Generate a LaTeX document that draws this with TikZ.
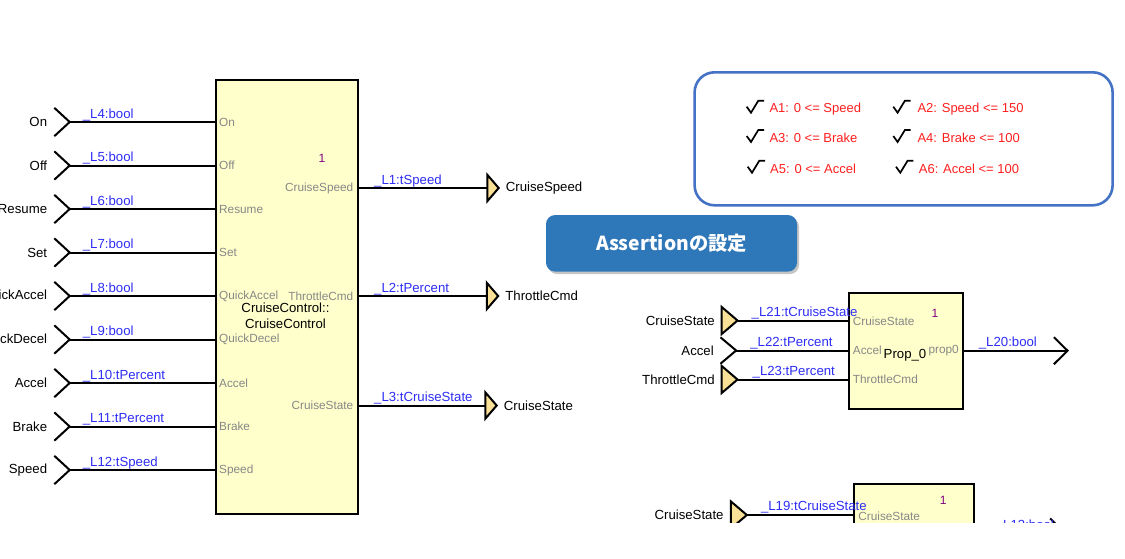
\documentclass[tikz,border=0pt]{standalone}
\usepackage{fontspec}
\setmainfont{Liberation Sans}
\newfontfamily\cjk{Noto Sans CJK JP}
\usetikzlibrary{positioning,shadows}

\definecolor{blkfill}{RGB}{255,255,204}
\definecolor{lnkblue}{RGB}{45,45,245}
\definecolor{portgray}{RGB}{135,135,135}
\definecolor{tagfill}{RGB}{248,224,150}
\definecolor{numpurple}{RGB}{128,0,128}
\definecolor{panelblue}{RGB}{68,114,196}
\definecolor{btnblue}{RGB}{46,119,184}
\definecolor{asrtred}{RGB}{255,30,30}

\begin{document}
\begin{tikzpicture}[x=1pt,y=-1pt,
  blk/.style={rectangle,draw=black,fill=blkfill,line width=2pt,inner sep=0pt,anchor=north west},
  term/.style={rectangle,inner sep=0pt,minimum width=15pt,minimum height=28pt},
  chev/.style={line width=2pt},
  tag/.style={draw=black,fill=tagfill,line width=2pt,line join=miter},
  wire/.style={line width=2pt},
  lbl/.style={font=\fontsize{13.2}{16.7}\selectfont,inner sep=0pt},
  lnk/.style={text=lnkblue,font=\fontsize{13.2}{16}\selectfont,inner sep=0pt,anchor=base west},
  port/.style={text=portgray,font=\fontsize{11.8}{14}\selectfont,inner sep=0pt},
  num/.style={text=numpurple,font=\fontsize{12}{14}\selectfont,inner sep=0pt},
  panel/.style={rectangle,draw=panelblue,line width=2.6pt,rounded corners=20pt,anchor=north west},
  tick/.style={line width=1.7pt,line join=miter},
  asrt/.style={text=asrtred,font=\fontsize{13}{16}\selectfont,inner sep=0pt,anchor=west},
  btn/.style={rectangle,rounded corners=9pt,fill=btnblue,text=white,
    font=\cjk\bfseries\fontsize{19.3}{24}\selectfont,minimum width=251pt,minimum height=56.5pt,
    drop shadow={shadow xshift=2pt,shadow yshift=-2.5pt,fill=black!45,opacity=0.5}}]
\useasboundingbox (0,0) rectangle (1125,558);
\begin{scope}
\clip (0,0) rectangle (1125,522.7);

% CruiseControl block
\node[blk, minimum width=142pt, minimum height=434pt] (cc) at (215,79) {};
\node[num] (ccnum) at (322,158.3) {1};
\node[lbl, align=center] (cctitle) at (285.5,315.7) {CruiseControl::\\CruiseControl};

\foreach \pn/\yy/\ln in {On/122/4:bool, Off/165.5/5:bool, Resume/209/6:bool, Set/252.5/7:bool,
    QuickAccel/296/8:bool, QuickDecel/339.5/9:bool, Accel/383/10:tPercent,
    Brake/426.5/11:tPercent, Speed/470/12:tSpeed}{
  \node[term] (in\pn) at (62,\yy) {};
  \draw[chev] (in\pn.north west) -- (in\pn.east) -- (in\pn.south west);
  \node[lbl, left=7pt of in\pn] (nm\pn) {\pn};
  \draw[wire] (in\pn.east) -- (in\pn.east -| cc.west);
  \node[port, anchor=west] (pt\pn) at ([xshift=4pt]in\pn.east -| cc.west) {\pn};
  \node[lnk] (ln\pn) at ([xshift=13pt,yshift=4pt]in\pn.east) {\_L\ln};
}

\foreach \pn/\yy/\ln/\tx in {CruiseSpeed/188/1:tSpeed/493, ThrottleCmd/296/2:tPercent/492.5,
    CruiseState/405.5/3:tCruiseState/491}{
  \node[term, minimum width=11pt, minimum height=26pt] (out\pn) at (\tx,\yy) {};
  \draw[wire] (cc.east |- out\pn.west) -- (out\pn.west);
  \draw[tag] (out\pn.north west) -- (out\pn.east) -- (out\pn.south west) -- cycle;
  \node[lbl, right=7pt of out\pn] (on\pn) {\pn};
  \node[port, anchor=east] (po\pn) at ([xshift=-5.5pt]cc.east |- out\pn.west) {\pn};
  \node[lnk] (lo\pn) at ([xshift=15pt,yshift=4pt]cc.east |- out\pn.west) {\_L\ln};
}

% assertions
\node[panel, minimum width=418pt, minimum height=133pt] (asrtbox) at (693.3,71) {};
\foreach \cx/\tx/\yy/\txt [count=\i] in {746.7/769.3/109/A1: 0 <= Speed, 893.3/917.3/109/A2: Speed <= 150,
    746.7/769.3/138.3/A3: 0 <= Brake, 893.3/917.3/138.3/A4: Brake <= 100,
    747.7/770/169/A5: 0 <= Accel, 896/918.7/169/A6: Accel <= 100}{
  \draw[tick] (\cx,\yy-2.3) -- ++(4.3,6) -- ++(7.3,-12) -- ++(5.7,0);
  \node[asrt] (a\i) at (\tx,\yy) {\txt};
}

\node[btn] (btn) at (671.5,243.3) {Assertionの設定};

% Prop_0 block
\node[blk, minimum width=114pt, minimum height=116pt] (pa) at (847.7,292.3) {};
\node[num] (panum) at (935,313.3) {1};
\node[lbl] (patitle) at (905,355) {Prop\_0};
\node[term, minimum width=15.6pt, minimum height=27pt] (paCS) at (729.5,320.5) {};
\node[term, minimum width=15.3pt, minimum height=26pt] (paAc) at (728.3,350.5) {};
\node[term, minimum width=15.6pt, minimum height=27pt] (paTC) at (729.5,379.5) {};
\node[term, minimum width=13.3pt, minimum height=26.7pt] (paOut) at (1060.7,350.7) {};
\draw[wire] (paCS.east) -- (paCS.east -| pa.west);
\draw[wire] (paAc.east) -- (paAc.east -| pa.west);
\draw[wire] (paTC.east) -- (paTC.east -| pa.west);
\draw[wire] (pa.east |- paOut.east) -- (paOut.east);
\draw[tag] (paCS.north west) -- (paCS.east) -- (paCS.south west) -- cycle;
\draw[chev] (paAc.north west) -- (paAc.east) -- (paAc.south west);
\draw[tag] (paTC.north west) -- (paTC.east) -- (paTC.south west) -- cycle;
\draw[chev] (paOut.north west) -- (paOut.east) -- (paOut.south west);
\node[lbl, left=6.5pt of paCS] (nmpaCS) {CruiseState};
\node[lbl, left=6.5pt of paAc] (nmpaAc) {Accel};
\node[lbl, left=6.5pt of paTC] (nmpaTC) {ThrottleCmd};
\node[port, anchor=west] (ptpaCS) at ([xshift=5pt,yshift=-1pt]paCS.east -| pa.west) {CruiseState};
\node[port, anchor=west] (ptpaAc) at ([xshift=5pt]paAc.east -| pa.west) {Accel};
\node[port, anchor=west] (ptpaTC) at ([xshift=5pt]paTC.east -| pa.west) {ThrottleCmd};
\node[port, anchor=east] (ptpaOut) at ([xshift=-4.7pt]pa.east |- paOut.east) {prop0};
\node[lnk] (lnpaCS) at ([xshift=14pt,yshift=4.5pt]paCS.east) {\_L21:tCruiseState};
\node[lnk] (lnpaAc) at ([xshift=14pt,yshift=4pt]paAc.east) {\_L22:tPercent};
\node[lnk] (lnpaTC) at ([xshift=15pt,yshift=4pt]paTC.east) {\_L23:tPercent};
\node[lnk] (lnpaOut) at ([xshift=15pt,yshift=4pt]pa.east |- paOut.east) {\_L20:bool};

% second property block (cut off)
\node[blk, minimum width=120pt, minimum height=100pt] (pb) at (852.7,482.7) {};
\node[num] (pbnum) at (943.3,500.7) {1};
\node[term, minimum width=15.7pt, minimum height=27pt] (pbCS) at (738.8,515) {};
\node[term, minimum width=13.3pt, minimum height=26.7pt] (pbOut) at (1057,532) {};
\draw[wire] (pbCS.east) -- (pbCS.east -| pb.west);
\draw[wire] (pb.east |- pbOut.east) -- (pbOut.east);
\draw[tag] (pbCS.north west) -- (pbCS.east) -- (pbCS.south west) -- cycle;
\draw[chev] (pbOut.north west) -- (pbOut.east) -- (pbOut.south west);
\node[lbl, left=7pt of pbCS] (nmpbCS) {CruiseState};
\node[port, anchor=west] (ptpbCS) at ([xshift=5.5pt,yshift=-1pt]pbCS.east -| pb.west) {CruiseState};
\node[lnk] (lnpbCS) at ([xshift=14pt,yshift=4.5pt]pbCS.east) {\_L19:tCruiseState};
\node[lnk] (lnpbOut) at ([xshift=21pt,yshift=3pt]pb.east |- pbOut.east) {\_L13:bool};
\end{scope}
\end{tikzpicture}
\end{document}
